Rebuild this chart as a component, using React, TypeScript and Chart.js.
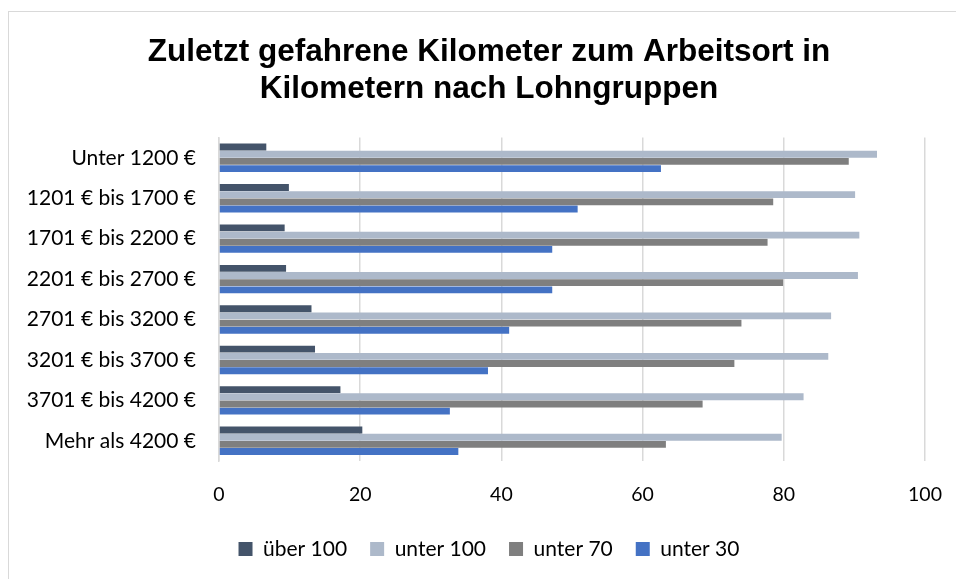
import React, { useEffect, useRef } from "react";
import { Chart, registerables } from "chart.js";

Chart.register(...registerables);

const categories = [
  "Unter 1200 €",
  "1201 € bis 1700 €",
  "1701 € bis 2200 €",
  "2201 € bis 2700 €",
  "2701 € bis 3200 €",
  "3201 € bis 3700 €",
  "3701 € bis 4200 €",
  "Mehr als 4200 €",
];

const ueber100 = [6.7, 9.9, 9.3, 9.5, 13.1, 13.6, 17.2, 20.3];
const unter100 = [93.2, 90.1, 90.7, 90.5, 86.7, 86.3, 82.8, 79.7];
const unter70 = [89.2, 78.5, 77.7, 79.9, 74.0, 73.0, 68.5, 63.3];
const unter30 = [62.6, 50.8, 47.2, 47.2, 41.1, 38.1, 32.7, 33.9];

const seriesNames = ["über 100", "unter 100", "unter 70", "unter 30"];
const seriesColors = ["#44546A", "#ADB9CA", "#7F7F7F", "#4472C4"];
const titleLines = ["Zuletzt gefahrene Kilometer zum Arbeitsort in", "Kilometern nach Lohngruppen"];
const xTicks = { min: 0, max: 100, step: 20 };

const bodyFont = "Lato, 'Open Sans', sans-serif";

export default function App() {
  const ref = useRef<HTMLCanvasElement | null>(null);

  useEffect(() => {
    if (!ref.current) return;
    const values = [ueber100, unter100, unter70, unter30];
    const chart = new Chart(ref.current, {
      type: "bar",
      data: {
        labels: categories,
        datasets: values.map((v, i) => ({
          label: seriesNames[i],
          data: v,
          backgroundColor: seriesColors[i],
          borderWidth: 0,
          categoryPercentage: 0.71,
          barPercentage: 0.96,
        })),
      },
      options: {
        indexAxis: "y",
        responsive: false,
        animation: false,
        layout: { padding: { left: 22, right: 0, top: 0, bottom: 9.5 } },
        plugins: {
          title: {
            display: true,
            text: titleLines,
            color: "#000000",
            font: { family: "'Liberation Sans', Arial, sans-serif", size: 31.5, weight: "bold", lineHeight: 1.2 },
            padding: { top: 33, bottom: 29 },
          },
          legend: {
            position: "bottom",
            labels: {
              boxWidth: 14,
              boxHeight: 14,
              color: "#000000",
              padding: 23,
              font: { family: bodyFont, size: 21 },
            },
          },
          tooltip: { enabled: false },
        },
        scales: {
          x: {
            min: xTicks.min,
            max: xTicks.max,
            ticks: {
              stepSize: xTicks.step,
              color: "#000000",
              padding: 22,
              font: { family: bodyFont, size: 19.5 },
            },
            grid: { color: "#D9D9D9", lineWidth: 1.5, drawTicks: false },
            border: { display: false },
            afterFit: (scale: any) => {
              scale.height = 54.5;
              scale.paddingRight = 31;
            },
          },
          y: {
            ticks: {
              color: "#000000",
              padding: 23,
              font: { family: bodyFont, size: 21 },
            },
            grid: { display: false, drawTicks: false },
            border: { display: true, color: "#D9D9D9", width: 1.5 },
            afterFit: (scale: any) => {
              scale.width = 197;
            },
          },
        },
      },
    });
    return () => chart.destroy();
  }, []);

  return (
    <div style={{ position: "fixed", left: 0, top: 0, width: 956, height: 579, background: "#fff" }}>
      <div
        style={{
          position: "absolute",
          left: 8,
          top: 11,
          right: 0,
          bottom: 0,
          borderLeft: "1px solid #D9D9D9",
          borderTop: "1px solid #D9D9D9",
        }}
      />
      <canvas ref={ref} width={956} height={579} style={{ position: "absolute", left: 0, top: 0 }} />
    </div>
  );
}
